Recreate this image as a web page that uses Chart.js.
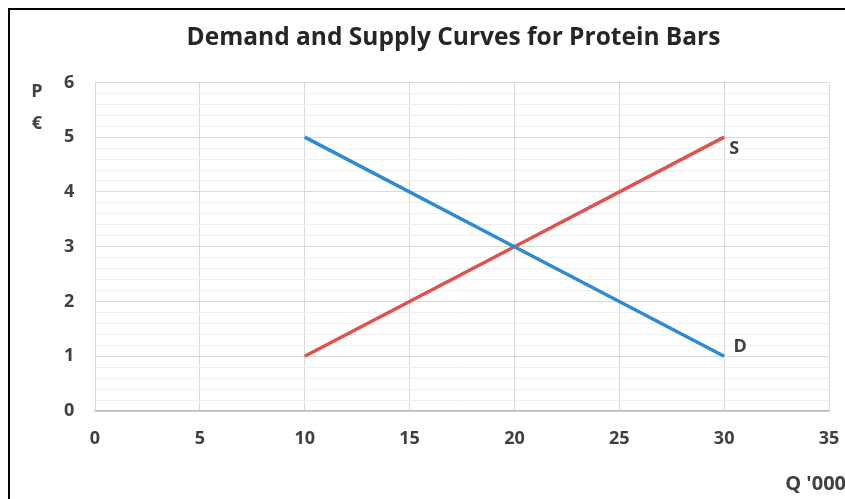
<!DOCTYPE html>
<html>
<head>
<meta charset="utf-8">
<script src="https://cdn.jsdelivr.net/npm/chart.js@4"></script>
<style>
  html, body { margin: 0; padding: 0; background: #fff; }
  #wrap { width: 845px; height: 499px; position: relative; }
</style>
</head>
<body>
<div id="wrap"><canvas id="chart" width="845" height="499"></canvas></div>
<script>
// Demand and supply data (Q in thousands, P in euro)
const quantity = [10, 20, 30];
const demandPrice = [5, 3, 1];
const supplyPrice = [1, 3, 5];
const xTicks = [0, 5, 10, 15, 20, 25, 30, 35];
const yTicks = [0, 1, 2, 3, 4, 5, 6];

const FONT = '"Open Sans", sans-serif';

function isMajor(v) {
    return Math.abs(v - Math.round(v)) < 1e-6;
}

// minor grid every 0.2, labels only on whole numbers
const yGrid = [];
for (let i = 0; i <= 30; i++) yGrid.push(Math.round(i * 2) / 10);

// Frame and extra labels (P, €, S, D, Q '000)
const extras = {
    id: 'extras',
    afterDraw(chart) {
        const c = chart.ctx;
        const x = chart.scales.x, y = chart.scales.y;
        c.save();
        // black frame (left and top edges)
        c.strokeStyle = '#000';
        c.lineWidth = 2;
        c.beginPath();
        c.moveTo(9, 499);
        c.lineTo(9, 9);
        c.lineTo(845, 9);
        c.stroke();

        c.fillStyle = '#404040';
        c.font = 'bold 18px ' + FONT;
        c.textAlign = 'center';
        c.textBaseline = 'middle';
        c.fillText('P', 37, 92);
        c.fillText('€', 37, 124);
        c.fillText('S', x.getPixelForValue(30) + 10, y.getPixelForValue(5) + 12);
        c.fillText('D', x.getPixelForValue(30) + 16, y.getPixelForValue(1) - 9);
        c.font = 'bold 20px ' + FONT;
        c.textAlign = 'right';
        c.fillText("Q '000", 846, 484);
        c.restore();
    }
};

new Chart(document.getElementById('chart'), {
    type: 'line',
    data: {
        datasets: [
            {
                label: 'D',
                data: quantity.map((q, i) => ({ x: q, y: demandPrice[i] })),
                borderColor: '#2F8AD4',
                borderWidth: 3.5,
                pointRadius: 0,
                fill: false
            },
            {
                label: 'S',
                data: quantity.map((q, i) => ({ x: q, y: supplyPrice[i] })),
                borderColor: '#E0524E',
                borderWidth: 3.5,
                pointRadius: 0,
                fill: false
            }
        ]
    },
    options: {
        responsive: false,
        animation: false,
        layout: { padding: { left: 78, right: 16, top: 10, bottom: 10 } },
        plugins: {
            legend: { display: false },
            tooltip: { enabled: false },
            title: {
                display: true,
                text: 'Demand and Supply Curves for Protein Bars',
                color: '#262626',
                font: { family: FONT, size: 24.5, weight: 'bold' },
                padding: { top: 13, bottom: 30 }
            }
        },
        scales: {
            x: {
                type: 'linear',
                min: 0,
                max: 35,
                afterBuildTicks: (s) => { s.ticks = xTicks.map(v => ({ value: v })); },
                afterFit: (s) => { s.height = 78; s.paddingLeft = 0; s.paddingRight = 0; },
                grid: { color: '#d9d9d9', lineWidth: 1, drawTicks: false },
                border: { color: '#bfbfbf', width: 1.5 },
                ticks: {
                    padding: 17,
                    maxRotation: 0,
                    color: '#404040',
                    font: { family: FONT, size: 18, weight: 'bold' }
                }
            },
            y: {
                type: 'linear',
                min: 0,
                max: 6,
                afterBuildTicks: (s) => { s.ticks = yGrid.map(v => ({ value: v })); },
                afterTickToLabelConversion: (s) => {
                    s.ticks.forEach(t => {
                        t.label = isMajor(t.value) && yTicks.includes(Math.round(t.value)) ? String(Math.round(t.value)) : '';
                    });
                },
                afterFit: (s) => { s.width = 17; s.paddingTop = 0; s.paddingBottom = 0; },
                ticks: {
                    autoSkip: false,
                    mirror: true,
                    padding: -31,
                    color: '#404040',
                    font: { family: FONT, size: 18, weight: 'bold' }
                },
                grid: {
                    drawTicks: false,
                    color: (ctx) => isMajor(ctx.tick.value) ? '#d9d9d9' : '#efefef',
                    lineWidth: 1
                },
                border: { color: '#d9d9d9', width: 1 }
            }
        }
    },
    plugins: [extras]
});
</script>
</body>
</html>
